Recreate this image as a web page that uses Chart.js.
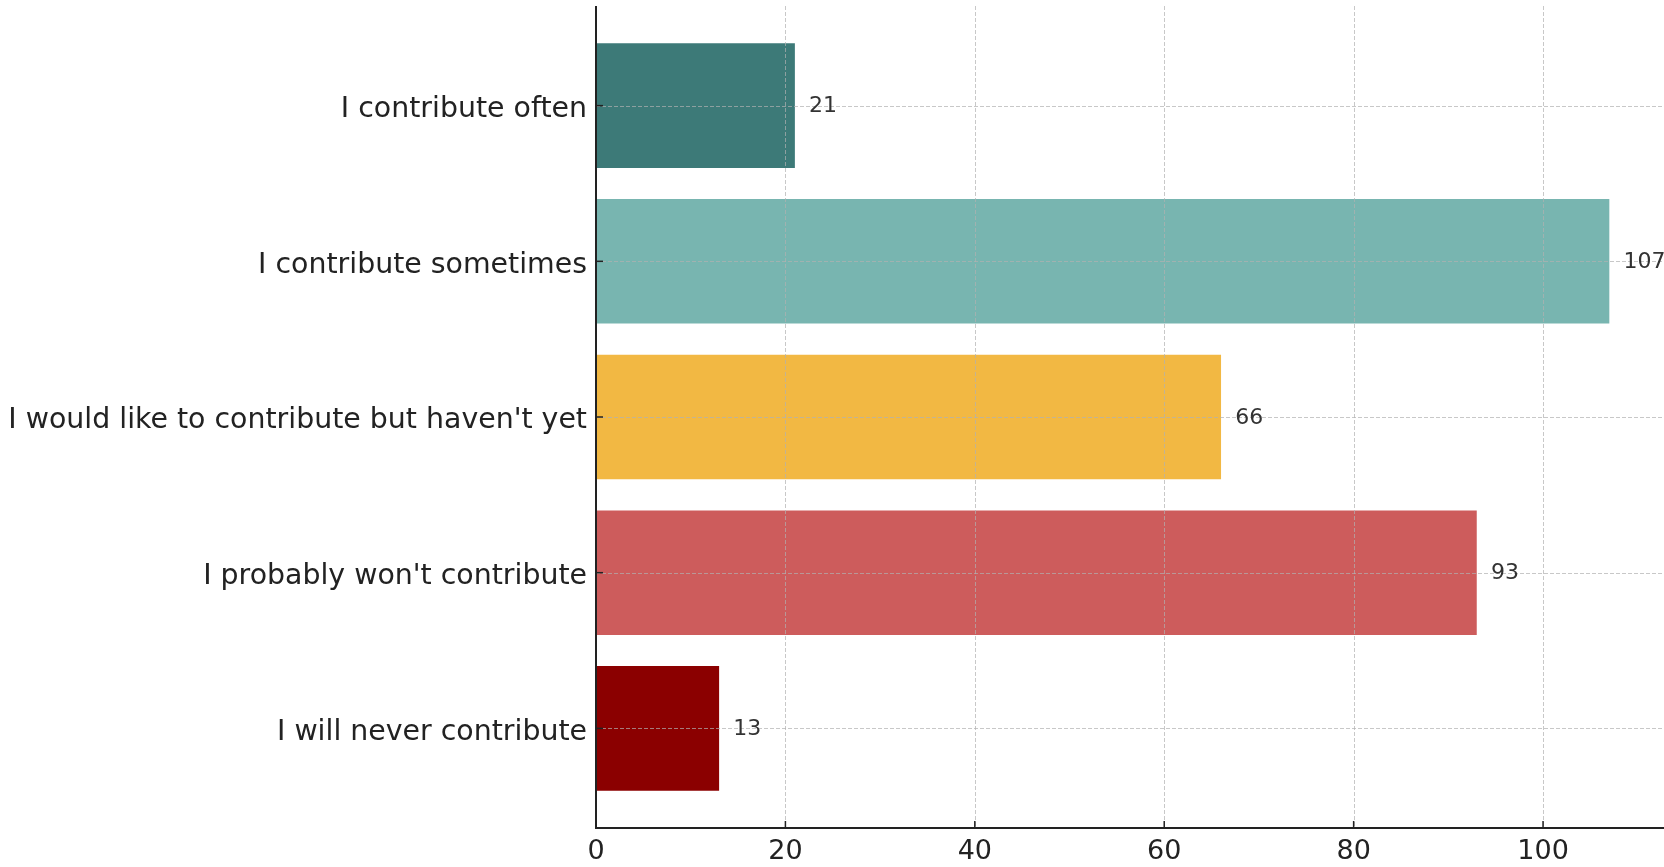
<!DOCTYPE html>
<html>
<head>
<meta charset="utf-8">
<script src="https://cdn.jsdelivr.net/npm/chart.js@4/dist/chart.umd.min.js"></script>
<style>
  html, body { margin: 0; padding: 0; background: #ffffff; }
  #wrap { width: 1664px; height: 867px; }
</style>
</head>
<body>
<div id="wrap"><canvas id="c" width="1664" height="867"></canvas></div>
<script>
const categories = [
  "I contribute often",
  "I contribute sometimes",
  "I would like to contribute but haven't yet",
  "I probably won't contribute",
  "I will never contribute"
];
const responses = [21, 107, 66, 93, 13];
const barColors = ["#3d7a78", "#78b5b0", "#f2b843", "#cd5c5c", "#8b0000"];
const xTickValues = [0, 20, 40, 60, 80, 100];

const FONT = "'DejaVu Sans', sans-serif";
const gridColor = "rgba(176,176,176,0.7)";

const overlay = {
  id: 'overlay',
  afterDatasetsDraw(chart) {
    const ctx = chart.ctx;
    const xs = chart.scales.x, ys = chart.scales.y;
    const a = chart.chartArea;
    ctx.save();
    ctx.strokeStyle = gridColor;
    ctx.lineWidth = 1;
    ctx.setLineDash([4, 2]);
    xs.ticks.forEach(t => {
      if (t.value === 0) return;
      const px = Math.round(xs.getPixelForValue(t.value)) + 0.5;
      ctx.beginPath(); ctx.moveTo(px, a.top); ctx.lineTo(px, a.bottom); ctx.stroke();
    });
    ys.ticks.forEach(t => {
      const py = Math.round(ys.getPixelForValue(t.value)) + 0.5;
      ctx.beginPath(); ctx.moveTo(a.left, py); ctx.lineTo(a.right + 4, py); ctx.stroke();
    });
    ctx.setLineDash([]);
    ctx.strokeStyle = "#222";
    ctx.lineWidth = 2;
    ctx.beginPath();
    ctx.moveTo(a.left, a.top); ctx.lineTo(a.left, a.bottom); ctx.lineTo(a.right + 4, a.bottom);
    ctx.stroke();
    ctx.lineWidth = 1.5;
    xs.ticks.forEach(t => {
      const px = xs.getPixelForValue(t.value);
      ctx.beginPath(); ctx.moveTo(px, a.bottom); ctx.lineTo(px, a.bottom - 7); ctx.stroke();
    });
    ys.ticks.forEach(t => {
      const py = ys.getPixelForValue(t.value);
      ctx.beginPath(); ctx.moveTo(a.left, py); ctx.lineTo(a.left + 7, py); ctx.stroke();
    });
    ctx.fillStyle = "#333";
    ctx.font = "22px " + FONT;
    ctx.textAlign = "left";
    ctx.textBaseline = "middle";
    responses.forEach((v, i) => {
      ctx.fillText(String(v), xs.getPixelForValue(v + 1.5), ys.getPixelForValue(i) + 1);
    });
    ctx.restore();
  }
};

new Chart(document.getElementById('c'), {
  type: 'bar',
  data: {
    datasets: [{
      data: responses.map((v, i) => ({ x: v, y: i })),
      backgroundColor: barColors,
      borderWidth: 0,
      categoryPercentage: 0.8,
      barPercentage: 1.0
    }]
  },
  options: {
    indexAxis: 'y',
    responsive: false,
    animation: false,
    layout: { padding: { top: 6, right: 4, left: 0, bottom: 0 } },
    plugins: { legend: { display: false }, tooltip: { enabled: false } },
    scales: {
      x: {
        type: 'linear',
        min: 0,
        max: 112.35,
        offset: false,
        afterBuildTicks: s => { s.ticks = xTickValues.map(v => ({ value: v })); },
        afterFit: s => { s.height = 39; s.paddingLeft = 0; s.paddingRight = 0; },
        grid: { display: false, drawTicks: false },
        border: { display: false },
        ticks: { font: { family: FONT, size: 27 }, color: '#222', padding: 8, maxRotation: 0 }
      },
      y: {
        type: 'linear',
        min: -0.64,
        max: 4.64,
        offset: false,
        reverse: true,
        afterBuildTicks: s => { s.ticks = categories.map((c, i) => ({ value: i })); },
        afterFit: s => { s.width = 596; s.paddingTop = 0; s.paddingBottom = 0; },
        grid: { display: false, drawTicks: false },
        border: { display: false },
        ticks: {
          font: { family: FONT, size: 28.4 }, color: '#222', padding: 9, labelOffset: 4,
          callback: v => categories[v]
        }
      }
    }
  },
  plugins: [overlay]
});
</script>
</body>
</html>
